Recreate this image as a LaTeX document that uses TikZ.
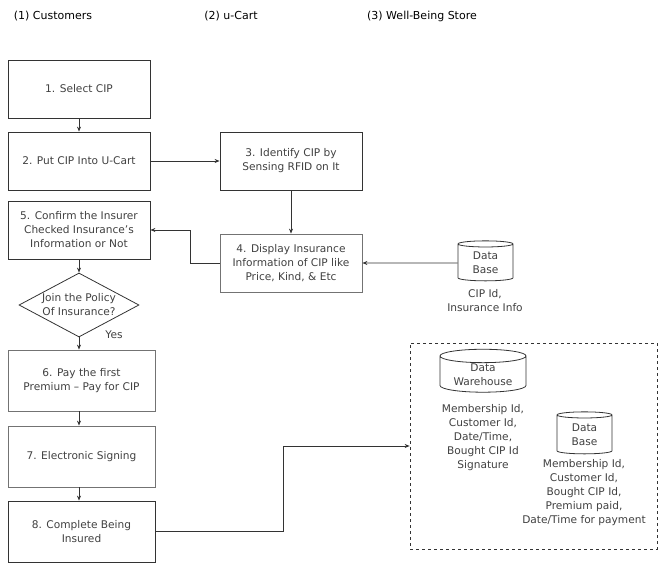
\documentclass[tikz,border=0pt]{standalone}
\usepackage{fontspec}
\setmainfont{DejaVu Sans}
\usetikzlibrary{arrows.meta,positioning,shapes.geometric}

\begin{document}
\begin{tikzpicture}[x=1pt,y=-1pt,on grid,>={Stealth[length=5pt,width=4pt]},line width=0.8pt,
box/.style={draw=black!80,rectangle,minimum width=142pt,minimum height=58pt,
    align=center,text=black!75,font=\fontsize{10.6}{14}\selectfont},
wide/.style={box,minimum width=147pt,minimum height=61pt},
soft/.style={draw=black!55},
link/.style={->,draw=black!80},
dbase/.style={draw=black!80,cylinder,shape border rotate=90,aspect=0.22,
    minimum width=55pt,minimum height=40pt,align=center,text=black!75,
    inner sep=1pt,font=\fontsize{10.6}{14}\selectfont},
note/.style={align=center,text=black!75,font=\fontsize{10.6}{14}\selectfont},
title/.style={font=\fontsize{11}{13}\selectfont}]

\useasboundingbox (0,0) rectangle (659,564);

% column headings
\node[title](hcust) at (53,16) {(1) Customers};
\node[title](hcart) at (231,16) {(2) u-Cart};
\node[title](hstore) at (422,16) {(3) Well-Being Store};

\node[box](select) at (79,89) {1. Select CIP};
\node[box](put) [below=72pt of select] {2. Put CIP Into U-Cart};
\node[box](ident) [right=212pt of put] {3. Identify CIP by\\Sensing RFID on It};
\node[box,soft](display) [below=102pt of ident] {4. Display Insurance\\Information of CIP like\\Price, Kind, \& Etc};
\node[box](confirm) [below=69pt of put] {5. Confirm the Insurer\\Checked Insurance's\\Information or Not};
\node[diamond,draw=black!80,aspect=1.9,inner sep=0pt,minimum width=120pt,
      minimum height=64pt,align=center,text=black!75,
      font=\fontsize{10.6}{14}\selectfont](join) [below=75pt of confirm] {Join the Policy\\Of Insurance?};
\node[wide,soft](pay) [below right=75.5pt and 2.5pt of join] {6. Pay the first\\Premium -- Pay for CIP};
\node[wide,soft](sign) [below=76pt of pay] {7. Electronic Signing};
\node[wide](done) [below=75pt of sign] {8. Complete Being\\Insured};
\node[note](yes) at (114,335) {Yes};
\coordinate (spine) at (join.south);

% store side
\node[dbase](db) [right=194.5pt of display] {Data\\Base};
\node[note](dbinfo) at (485,301) {CIP Id,\\Insurance Info};
\node[draw=black!80,dashed,line width=0.7pt,minimum width=247pt,minimum height=206pt](store) at (533.5,446) {};
\node[dbase,minimum width=86pt](dw) at (483,375) {Data\\Warehouse};
\node[note](dwinfo) at (483,438) {Membership Id,\\Customer Id,\\Date/Time,\\Bought CIP Id\\Signature};
\node[dbase,minimum height=42pt](db2) at (584.5,435) {Data\\Base};
\node[note](db2info) at (584,493) {Membership Id,\\Customer Id,\\Bought CIP Id,\\Premium paid,\\Date/Time for payment};

\draw[link] (select) -- (put);
\draw[link] (put) -- (ident);
\draw[link] (ident) -- (display);
\draw[link] (db) -- (display);
\draw[link] (confirm.south -| spine) -- (join.north);
\draw[link] (spine) -- (spine |- pay.north);
\draw[link] (spine |- pay.south) -- (spine |- sign.north);
\draw[link] (spine |- sign.south) -- (spine |- done.north);
\draw[link] (display.west) -- ++(-29,0) |- (confirm.east);
\draw[link] (done.east) -- ++(128,0) |- (store.west);

\end{tikzpicture}
\end{document}
